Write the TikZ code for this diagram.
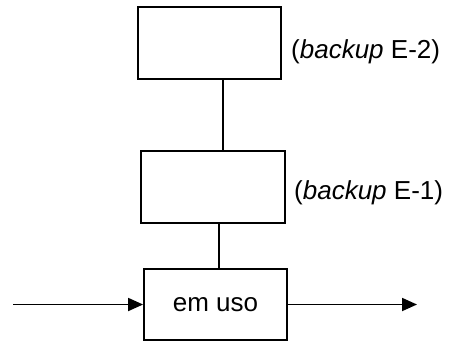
\documentclass[tikz,border=0pt]{standalone}
\usepackage{fontspec}
\setmainfont{Liberation Sans}
\usepackage{tikz}
\usetikzlibrary{positioning,arrows.meta,calc}

\begin{document}
\begin{tikzpicture}[
    x=1pt, y=-1pt,
    stage/.style={draw, line width=1.8pt, inner sep=0pt,
                  font=\fontsize{26}{30}\selectfont},
    tag/.style={anchor=west, inner sep=0pt,
                font=\fontsize{26}{30}\selectfont},
    flow/.style={line width=1.8pt, -{Triangle[length=15pt,width=13pt]}},
    link/.style={line width=1.8pt},
]
\useasboundingbox (0,0) rectangle (454,342);

% stages of the backup chain
\node[stage, minimum width=143pt, minimum height=72pt] (e2) at (209.5,43) {};
\node[stage, minimum width=144pt, minimum height=72pt] (e1) at (213,187) {};
\node[stage, minimum width=143pt, minimum height=71pt] (cur) at (215.5,304.5) {em uso};

\node[tag] (e2lbl) at (291,52) {(\textit{backup} E-2)};
\node[tag] (e1lbl) at (294,192.5) {(\textit{backup} E-1)};

% links
\draw[link] ([xshift=13.2pt]e2.south) -- ([xshift=13.2pt]e2.south |- e1.north);
\draw[link] ([xshift=5.7pt]e1.south) -- ([xshift=5.7pt]e1.south |- cur.north);

% in / out
\coordinate (inp) at (13,304.5);
\coordinate (outp) at (417,304.5);
\draw[flow] (inp) -- (cur.west);
\draw[flow] (cur.east) -- (outp);
\end{tikzpicture}
\end{document}
